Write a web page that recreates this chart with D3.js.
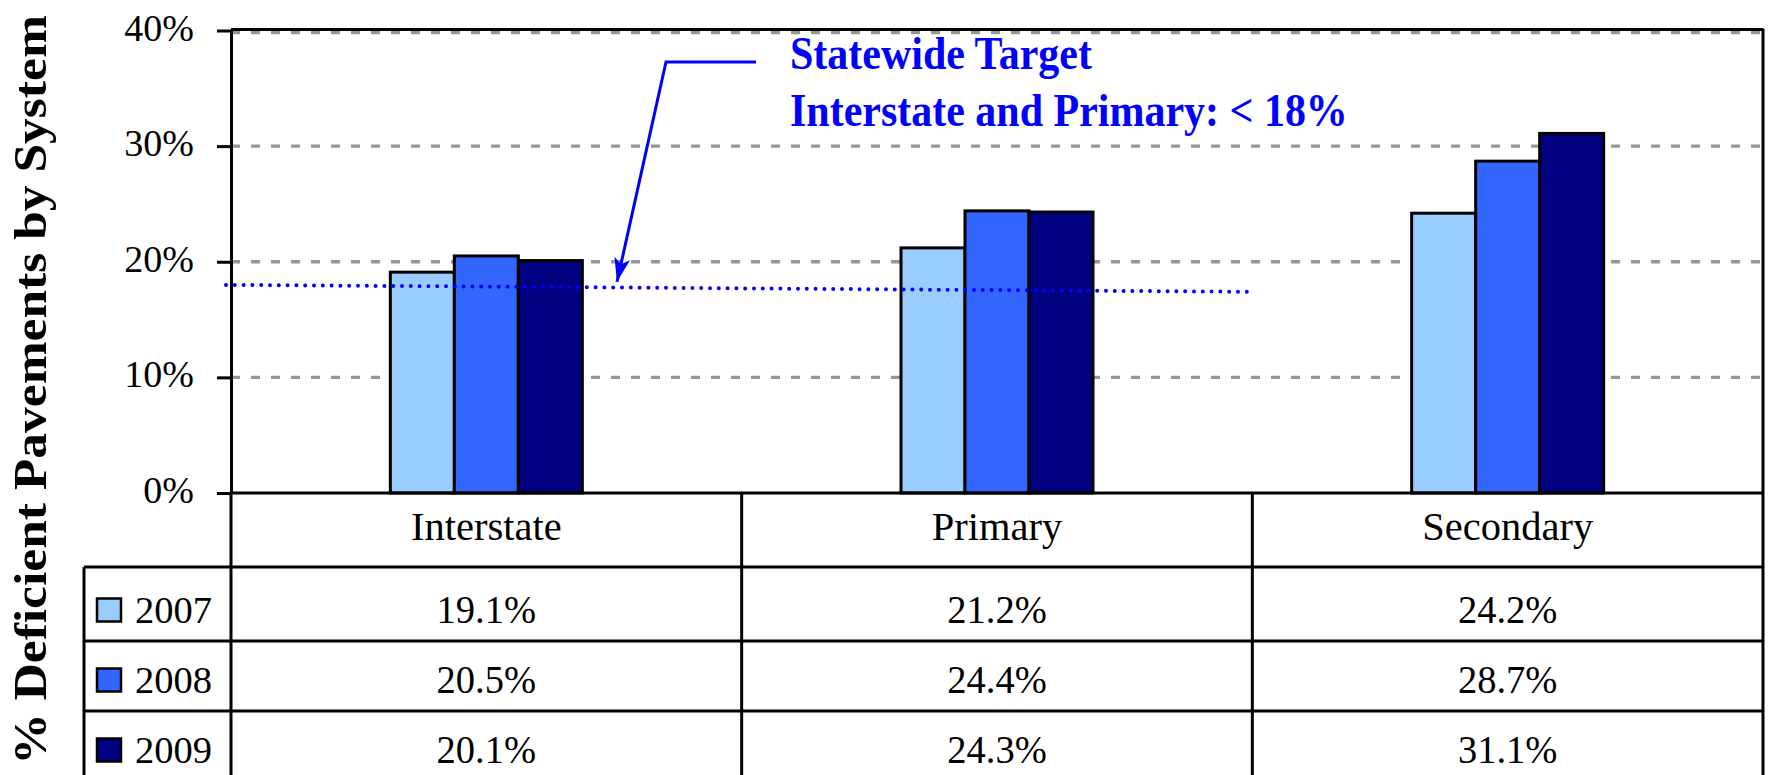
<!DOCTYPE html>
<html lang="en">
<head>
    <meta charset="utf-8">
    <title>% Deficient Pavements by System</title>
    <script src="https://d3js.org/d3.v7.min.js"></script>
    <style>
        html, body { margin: 0; padding: 0; background: #fff; }
        svg { display: block; font-family: "Liberation Serif", "Times New Roman", serif; }
    </style>
</head>
<body>
<div id="chart"></div>
<script>

/* ------------------------------------------------------------
 *  Data
 * ------------------------------------------------------------ */
var systems = ["Interstate", "Primary", "Secondary"];
var years = ["2007", "2008", "2009"];
var values2007 = [19.1, 21.2, 24.2];
var values2008 = [20.5, 24.4, 28.7];
var values2009 = [20.1, 24.3, 31.1];
var yTicks = [0, 10, 20, 30, 40];
// dotted target line, value at its start and its end (it is slightly tilted in the original)
var targetLine = [18.0, 17.4];
var targetLabel = ["Statewide Target", "Interstate and Primary: < 18%"];
var yTitle = "% Deficient Pavements by System";

var colors = ["#99CCFF", "#3366FF", "#000080"];
var seriesValues = [values2007, values2008, values2009];

/* ------------------------------------------------------------
 *  Layout
 * ------------------------------------------------------------ */
var width = 1769, height = 775;
var plotLeft = 231, plotRight = 1763, plotTop = 30.5, plotBottom = 493;
var legendLeft = 84;
var rowLines = [567, 641, 711];      // top edge of each table row
var tableBottom = 785;
var headerBase = 540, firstRowBase = 623, rowStep = 70;

var svg = d3.select("#chart")
    .append("svg")
    .attr("width", width)
    .attr("height", height);

var x0 = d3.scaleBand().domain(systems).range([plotLeft, plotRight]);
var groupW = x0.bandwidth() * 0.376;
var x1 = d3.scaleBand().domain(years).range([0, groupW]);
var y = d3.scaleLinear().domain([0, 40]).range([plotBottom, plotTop]);

// Gridlines
svg.append("g")
    .selectAll("line")
    .data(yTicks.filter(d => d > 0))
    .enter()
    .append("line")
    .attr("x1", plotLeft)
    .attr("x2", plotRight)
    .attr("y1", d => y(d) + (d === 40 ? 2 : 0))
    .attr("y2", d => y(d) + (d === 40 ? 2 : 0))
    .attr("stroke", "#969696")
    .attr("stroke-width", 3.3)
    .attr("stroke-dasharray", "9 11");

// Top border of plot area
svg.append("line")
    .attr("x1", plotLeft).attr("x2", plotRight)
    .attr("y1", plotTop - 1).attr("y2", plotTop - 1)
    .attr("stroke", "black").attr("stroke-width", 3);

// Bars
var bars = [];
systems.forEach((s, i) => {
    years.forEach((yr, j) => {
        bars.push({system: s, year: yr, value: seriesValues[j][i], color: colors[j]});
    });
});
svg.append("g")
    .selectAll("rect")
    .data(bars)
    .enter()
    .append("rect")
    .attr("x", d => x0(d.system) + (x0.bandwidth() - groupW) / 2 + x1(d.year))
    .attr("y", d => y(d.value))
    .attr("width", x1.bandwidth())
    .attr("height", d => y(0) - y(d.value))
    .attr("fill", d => d.color)
    .attr("stroke", "black")
    .attr("stroke-width", 3);

// Target line (dotted)
var tx1 = plotLeft - 5;
var tx2 = x0("Primary") + x0.bandwidth();
svg.append("line")
    .attr("x1", tx1).attr("y1", y(targetLine[0]))
    .attr("x2", tx2).attr("y2", y(targetLine[1]))
    .attr("stroke", "#0000FF")
    .attr("stroke-width", 4)
    .attr("stroke-linecap", "round")
    .attr("stroke-dasharray", "0 8.8");

// Y axis
var yAxis = d3.axisLeft(y)
    .tickValues(yTicks)
    .tickSize(14)
    .tickSizeOuter(0)
    .tickPadding(23)
    .tickFormat(d => d + "%");
var gy = svg.append("g")
    .attr("transform", `translate(${plotLeft},0)`)
    .call(yAxis);
gy.select(".domain").attr("stroke", "black").attr("stroke-width", 3);
gy.selectAll(".tick line").attr("stroke", "black").attr("stroke-width", 3);
gy.selectAll(".tick text")
    .attr("font-family", "Liberation Serif, Times New Roman, serif")
    .attr("font-size", 38)
    .attr("fill", "black")
    .attr("dy", "0.25em");

// Axis title (glyphs a bit wider than normal in the original)
svg.append("text")
    .attr("transform", "translate(46,390) rotate(-90) scale(1.12,1)")
    .attr("text-anchor", "middle")
    .attr("font-size", 46)
    .attr("font-weight", "bold")
    .text(yTitle);

/* ------------------------------------------------------------
 *  Data table below the chart
 * ------------------------------------------------------------ */
var table = svg.append("g")
    .attr("stroke", "black")
    .attr("stroke-width", 3);

// horizontal rules
table.append("line")
    .attr("x1", plotLeft).attr("x2", plotRight)
    .attr("y1", plotBottom).attr("y2", plotBottom);
table.selectAll(".hrule")
    .data(rowLines)
    .enter()
    .append("line")
    .attr("x1", legendLeft).attr("x2", plotRight)
    .attr("y1", d => d)
    .attr("y2", d => d);

// vertical rules
table.selectAll(".vrule")
    .data(systems)
    .enter()
    .append("line")
    .attr("x1", d => x0(d)).attr("x2", d => x0(d))
    .attr("y1", plotBottom).attr("y2", tableBottom);
table.append("line")
    .attr("x1", plotRight).attr("x2", plotRight)
    .attr("y1", plotTop - 2).attr("y2", tableBottom);
table.append("line")
    .attr("x1", legendLeft).attr("x2", legendLeft)
    .attr("y1", rowLines[0]).attr("y2", tableBottom);

// column headers
svg.append("g")
    .selectAll("text")
    .data(systems)
    .enter()
    .append("text")
    .attr("x", d => x0(d) + x0.bandwidth() / 2)
    .attr("y", headerBase)
    .attr("text-anchor", "middle")
    .attr("font-size", 40.5)
    .text(d => d);

// rows: legend key + values
years.forEach((yr, j) => {
    let base = firstRowBase + j * rowStep;
    let row = svg.append("g");
    row.append("rect")
        .attr("x", 97).attr("y", base - 24.5)
        .attr("width", 24).attr("height", 23)
        .attr("fill", colors[j])
        .attr("stroke", "black")
        .attr("stroke-width", 2.5);
    row.append("text")
        .attr("x", 135).attr("y", base)
        .attr("font-size", 38.5)
        .text(yr);
    row.selectAll(".val")
        .data(seriesValues[j])
        .enter()
        .append("text")
        .attr("transform", (d, i) => `translate(${x0(systems[i]) + x0.bandwidth() / 2},${base}) scale(1,1.04)`)
        .attr("text-anchor", "middle")
        .attr("font-size", 38.5)
        .text(d => d.toFixed(1) + "%");
});

/* ------------------------------------------------------------
 *  Annotation: statewide target
 * ------------------------------------------------------------ */
svg.append("defs")
    .append("marker")
    .attr("id", "arrow")
    .attr("markerUnits", "userSpaceOnUse")
    .attr("markerWidth", 26)
    .attr("markerHeight", 18)
    .attr("refX", 24)
    .attr("refY", 8)
    .attr("orient", "auto")
    .append("path")
    .attr("d", "M0,0 L24,8 L0,16 L6,8 Z")
    .attr("fill", "#0000FF");

svg.append("path")
    .attr("d", `M756,62 L666,62 L617,${y(targetLine[0]) - 3}`)
    .attr("fill", "none")
    .attr("stroke", "#0000FF")
    .attr("stroke-width", 3)
    .attr("marker-end", "url(#arrow)");

svg.append("g")
    .selectAll("text")
    .data(targetLabel)
    .enter()
    .append("text")
    .attr("transform", (d, i) => `translate(790,${69 + i * 57}) scale(1,1.1)`)
    .attr("font-size", 42)
    .attr("font-weight", "bold")
    .attr("fill", "#0000FF")
    .text(d => d);

</script>
</body>
</html>
